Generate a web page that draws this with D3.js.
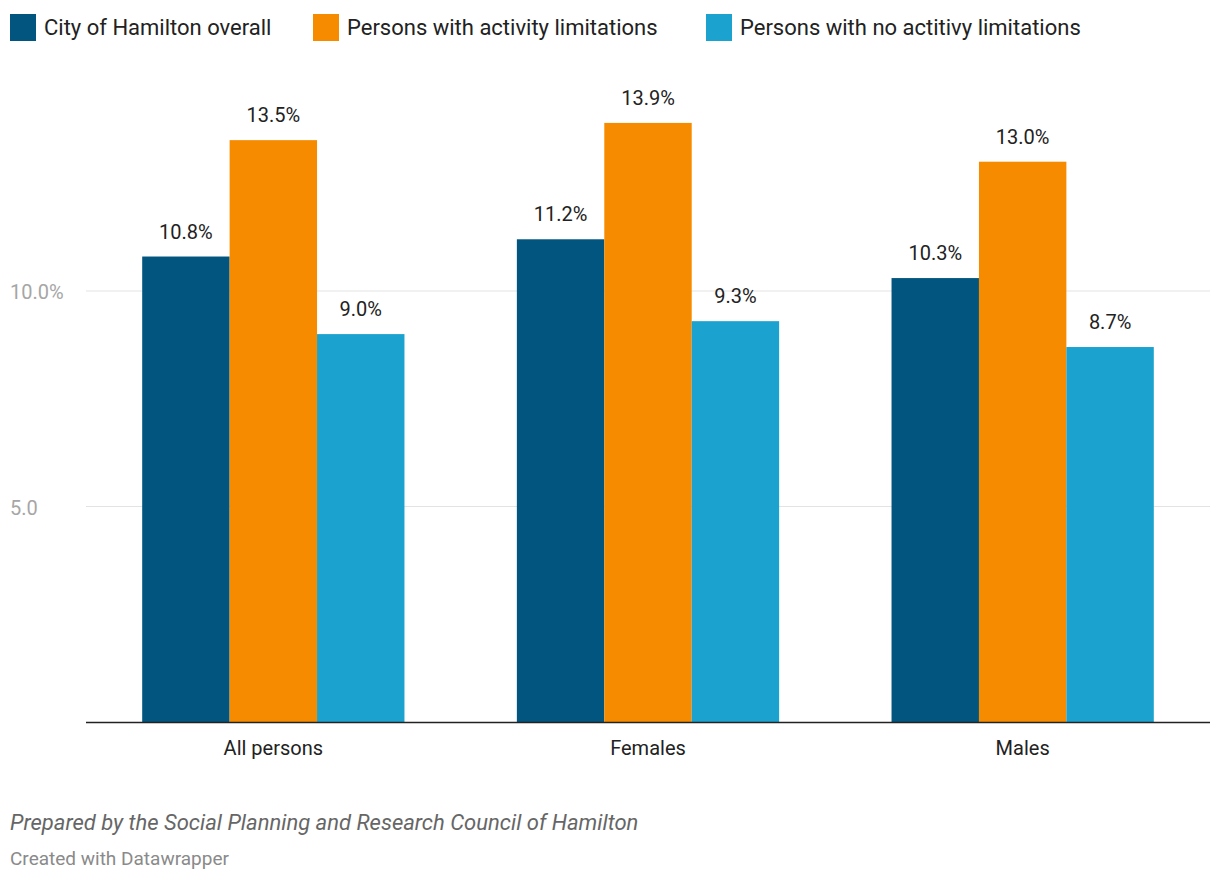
<!DOCTYPE html>
<html><head><meta charset="utf-8">
<script src="https://cdn.jsdelivr.net/npm/d3@7"></script>
<style>body{margin:0;background:#fff;font-family:Roboto,sans-serif;}</style>
</head><body><svg width="1220" height="882"></svg>
<script>
const categories = ["All persons", "Females", "Males"];
const seriesNames = ["City of Hamilton overall", "Persons with activity limitations", "Persons with no actitivy limitations"];
const overall = [10.8, 11.2, 10.3];
const withLimits = [13.5, 13.9, 13.0];
const noLimits = [9.0, 9.3, 8.7];
const yTicks = [5, 10];
const colors = ["#01557e", "#f78b00", "#1ba2cf"];

const svg = d3.select("svg");
const left = 86, right = 1210, bottom = 722;

const x0 = d3.scaleBand().domain(categories).range([left, right]).paddingInner(0.3).paddingOuter(0.15);
const x1 = d3.scaleBand().domain(seriesNames).range([0, x0.bandwidth()]);
const y = d3.scaleLinear().domain([0, 10]).range([bottom, 291]);

// grid
svg.selectAll(".grid").data(yTicks).enter().append("line")
    .attr("x1", left).attr("x2", right)
    .attr("y1", d => y(d)).attr("y2", d => y(d))
    .attr("stroke", "#e3e3e3").attr("stroke-width", 1);
svg.selectAll(".ytick").data(yTicks).enter().append("text")
    .attr("x", 10).attr("y", d => y(d) + 8)
    .attr("fill", "#a6a6a6").style("font-size", "20px")
    .text(d => d === 10 ? "10.0%" : d.toFixed(1));

const rows = [];
categories.forEach((c, i) => {
    [overall, withLimits, noLimits].forEach((arr, j) => rows.push({c, s: seriesNames[j], v: arr[i], j}));
});

svg.selectAll("rect.bar").data(rows).enter().append("rect")
    .attr("x", d => x0(d.c) + x1(d.s))
    .attr("y", d => y(d.v))
    .attr("width", x1.bandwidth())
    .attr("height", d => bottom - y(d.v))
    .attr("fill", d => colors[d.j]);

svg.selectAll("text.val").data(rows).enter().append("text")
    .attr("x", d => x0(d.c) + x1(d.s) + x1.bandwidth() / 2)
    .attr("y", d => y(d.v) - 18)
    .attr("text-anchor", "middle").style("font-size", "20px").attr("fill", "#222")
    .text(d => d.v.toFixed(1) + "%");

svg.append("line").attr("x1", left).attr("x2", right).attr("y1", bottom + 0.5).attr("y2", bottom + 0.5)
    .attr("stroke", "#222").attr("stroke-width", 1.5);

svg.selectAll("text.cat").data(categories).enter().append("text")
    .attr("x", d => x0(d) + x0.bandwidth() / 2).attr("y", 755)
    .attr("text-anchor", "middle").style("font-size", "20px").attr("fill", "#222")
    .text(d => d);

// legend
const legX = [10, 313, 706];
seriesNames.forEach((s, i) => {
    svg.append("rect").attr("x", legX[i]).attr("y", 14).attr("width", 26).attr("height", 27).attr("fill", colors[i]);
    svg.append("text").attr("x", legX[i] + 34).attr("y", 35).style("font-size", "22px").attr("fill", "#222").text(s);
});

svg.append("text").attr("x", 10).attr("y", 830).style("font-size", "22px").style("font-style", "italic")
    .attr("fill", "#666").text("Prepared by the Social Planning and Research Council of Hamilton");
svg.append("text").attr("x", 10).attr("y", 865).style("font-size", "19px")
    .attr("fill", "#8a8a8a").text("Created with Datawrapper");
</script></body></html>
